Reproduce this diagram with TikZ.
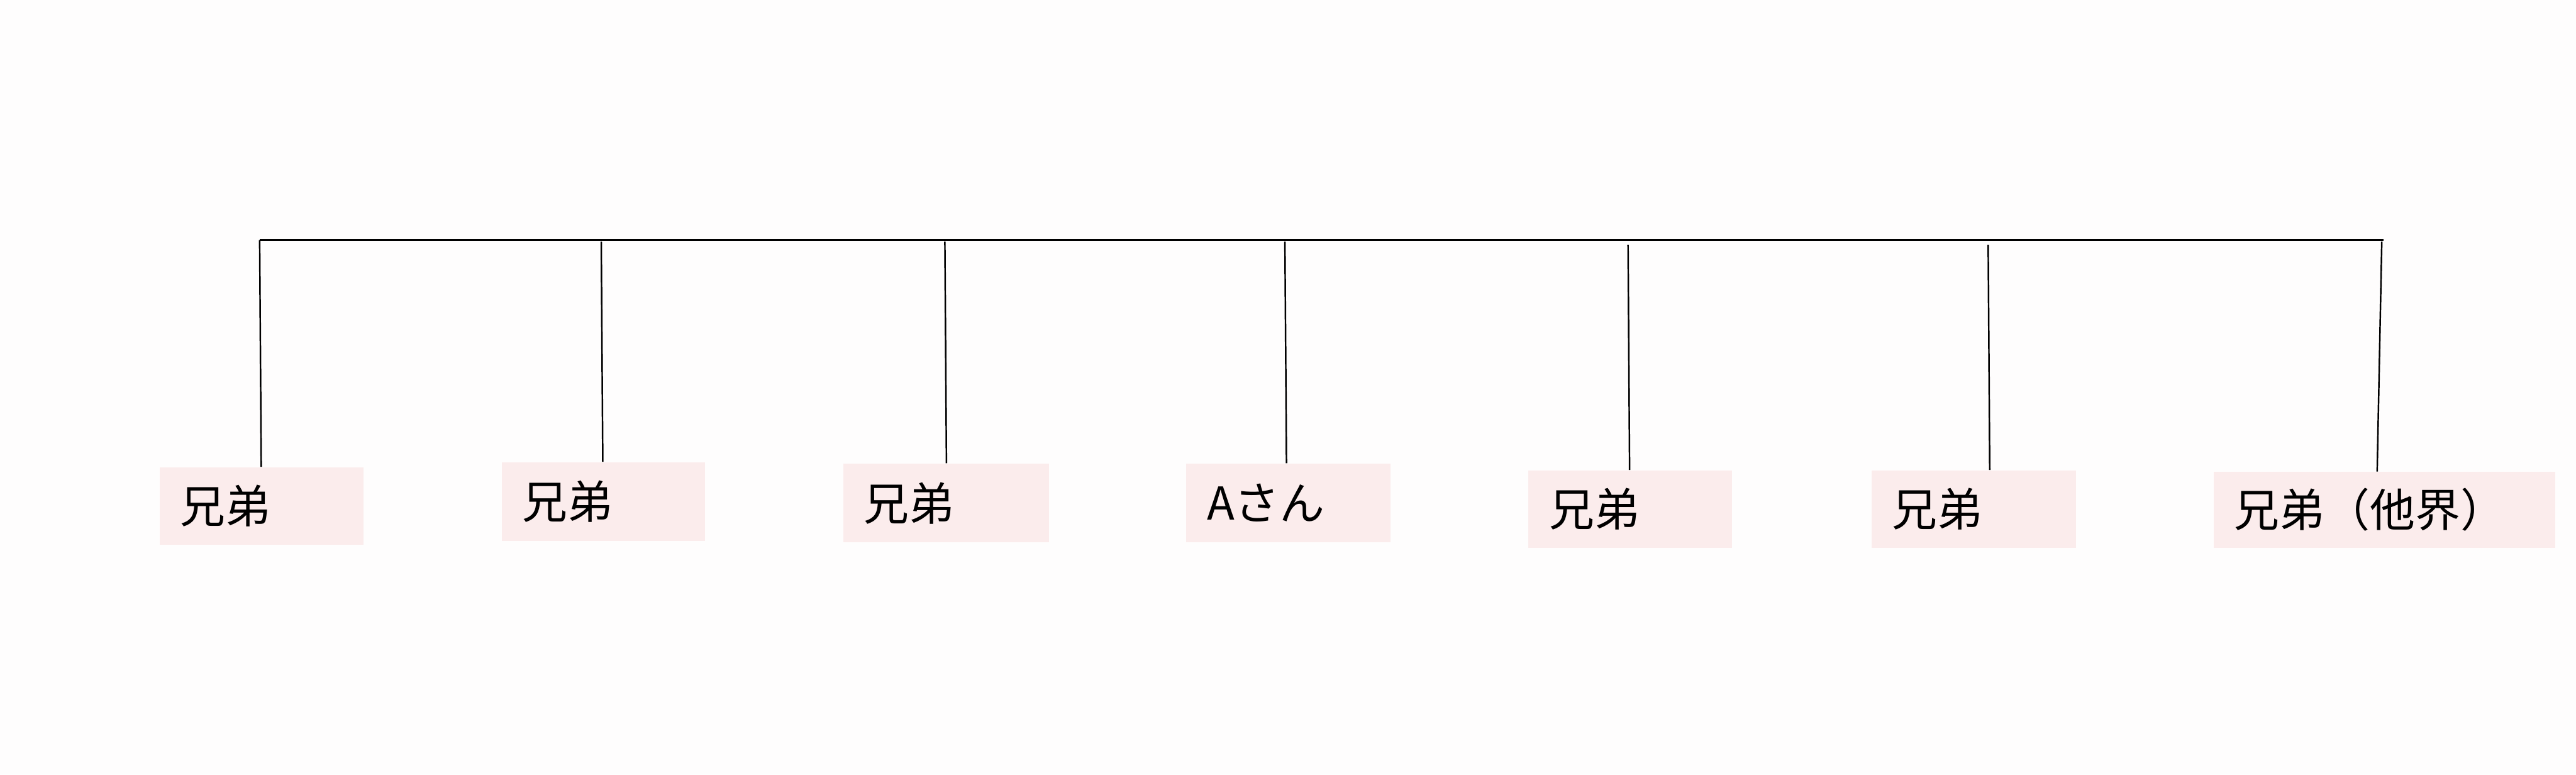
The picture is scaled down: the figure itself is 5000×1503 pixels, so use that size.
\documentclass[tikz,border=0pt]{standalone}
\usepackage{fontspec}
\newfontfamily\jp{Noto Sans CJK JP}
\usetikzlibrary{calc}
\definecolor{bgc}{RGB}{254,253,253}
\definecolor{boxpink}{RGB}{251,236,236}
\tikzset{
  lbl/.style={rectangle, fill=boxpink, draw=none, anchor=north west,
    inner xsep=0.4cm, inner ysep=0pt, align=left,
    font=\jp\fontsize{25pt}{30pt}\selectfont, text=black},
  bar/.style={line width=1pt, draw=black},
  drop/.style={line width=0.85pt, draw=black}
}
\begin{document}
\begin{tikzpicture}[x=0.01cm, y=-0.01cm]
\fill[bgc] (0,0) rectangle (5000,1503);
\useasboundingbox (0,0) rectangle (5000,1503);
% boxes
\node[lbl, minimum width=3.96cm, minimum height=1.50cm, text width=3.16cm] (b1) at (309,906) {兄弟};
\node[lbl, minimum width=3.95cm, minimum height=1.53cm, text width=3.15cm] (b2) at (973,896) {兄弟};
\node[lbl, minimum width=3.99cm, minimum height=1.53cm, text width=3.19cm] (b3) at (1636,899) {兄弟};
\node[lbl, minimum width=3.96cm, minimum height=1.53cm, text width=3.16cm] (b4) at (2302,899) {Aさん};
\node[lbl, minimum width=3.95cm, minimum height=1.50cm, text width=3.15cm] (b5) at (2966,912) {兄弟};
\node[lbl, minimum width=3.96cm, minimum height=1.50cm, text width=3.16cm] (b6) at (3632,912) {兄弟};
\node[lbl, minimum width=6.63cm, minimum height=1.47cm, text width=5.83cm] (b7) at (4296,915) {兄弟（他界）};
% bar
\coordinate (L) at (504,466);
\coordinate (R) at (4627,466);
\draw[bar] (L) -- (R);
% drop tops
\coordinate (t1) at (504,466);
\coordinate (t2) at (1167,469);
\coordinate (t3) at (1834,469);
\coordinate (t4) at (2494,469);
\coordinate (t5) at (3160,475);
\coordinate (t6) at (3859,475);
\coordinate (t7) at (4623,469);
\draw[drop] (t1) -- ($(b1.north west)+(198,0)$);
\draw[drop] (t2) -- ($(b2.north west)+(197,0)$);
\draw[drop] (t3) -- ($(b3.north west)+(201,0)$);
\draw[drop] (t4) -- ($(b4.north west)+(195,0)$);
\draw[drop] (t5) -- ($(b5.north west)+(197,0)$);
\draw[drop] (t6) -- ($(b6.north west)+(230,0)$);
\draw[drop] (t7) -- ($(b7.north west)+(318,0)$);
\end{tikzpicture}
\end{document}
